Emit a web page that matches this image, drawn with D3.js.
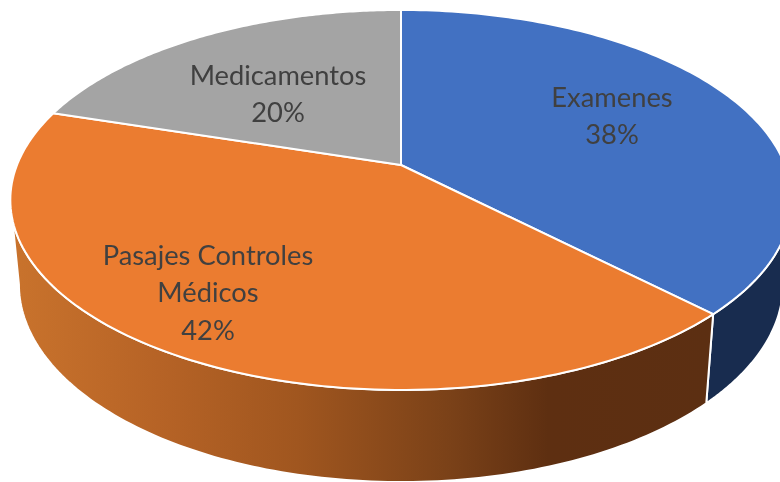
<!DOCTYPE html>
<html>
<head>
<meta charset="utf-8">
<script src="https://cdn.jsdelivr.net/npm/d3@7"></script>
<style>
html,body{margin:0;padding:0;background:#fff;overflow:hidden}
svg{display:block;filter:blur(0.4px)}
text{font-family:Lato,"Open Sans",sans-serif;fill:#404040;font-size:27.3px;text-anchor:middle}
</style>
</head>
<body>
<svg id="chart" width="780" height="482"></svg>
<script>
// data
const categories = ["Examenes", "Pasajes Controles Médicos", "Medicamentos"];
const labelLines = [["Examenes"], ["Pasajes Controles", "Médicos"], ["Medicamentos"]];
const values = [37.5, 42.3, 20.2];

// layout and style
const topColors = ["#4271c2", "#eb7c30", "#a4a4a4"];
const labelCentres = [[612, 97], [208, 255], [278, 75]];
const lineStep = 37.5;
const apex = {x: 401, y: 165};
const R = 384, persp = -0.184, depthA = 153.2;
const wallScaleX = 0.978, wallScaleY = 1.04, wallShift = 76.5;

const svg = d3.select("#chart");
const defs = svg.append("defs");
const grad = defs.append("linearGradient").attr("id", "orangeWall")
  .attr("gradientUnits", "userSpaceOnUse")
  .attr("x1", 20).attr("x2", 715).attr("y1", 0).attr("y2", 0);
[[0, "#c8722c"], [0.2, "#b66326"], [0.4, "#a0561f"], [0.62, "#7a4118"], [0.76, "#5e2f11"], [1, "#5c2f12"]]
  .forEach(s => grad.append("stop").attr("offset", s[0]).attr("stop-color", s[1]));

// perspective projection of the pie circle
const project = a => {
  const u = Math.sin(a), v = -Math.cos(a), w = 1 + persp * v;
  return [apex.x + R * u / w, (depthA * v + apex.y) / w];
};
const lower = p => [apex.x + wallScaleX * (p[0] - apex.x), wallScaleY * p[1] + wallShift];
const sample = (a0, a1) => d3.range(0, 121).map(i => a0 + (a1 - a0) * i / 120);

const arcs = d3.pie().sort(null).value(d => d)(values);
const line = d3.line();

// angles at which the rim reaches its widest points
const tilt = Math.acos(-persp);
const rightEdge = Math.PI - tilt;
const leftEdge = Math.PI + tilt;

// walls
const walls = [
  {a0: Math.max(arcs[0].startAngle, rightEdge), a1: arcs[0].endAngle, fill: "#182c4f"},
  {a0: arcs[1].startAngle, a1: Math.min(arcs[1].endAngle, leftEdge), fill: "url(#orangeWall)"}
];
svg.append("g").selectAll("path").data(walls).join("path")
  .attr("d", d => {
    const t = sample(d.a0, d.a1).map(project);
    const b = t.map(lower).reverse();
    return line(t.concat(b)) + "Z";
  })
  .attr("fill", d => d.fill)
  .attr("stroke", "#fff").attr("stroke-width", 2).attr("stroke-linejoin", "round");

// top faces
svg.append("g").selectAll("path").data(arcs).join("path")
  .attr("d", d => line([[apex.x, apex.y]].concat(sample(d.startAngle, d.endAngle).map(project))) + "Z")
  .attr("fill", (d, i) => topColors[i])
  .attr("stroke", "#fff").attr("stroke-width", 2).attr("stroke-linejoin", "round");

// labels
const labels = svg.append("g").selectAll("g").data(arcs).join("g");
labels.each(function (d, i) {
  const g = d3.select(this);
  const rows = labelLines[i].concat([Math.round(d.value) + "%"]);
  rows.forEach((r, j) => {
    g.append("text")
      .attr("x", labelCentres[i][0])
      .attr("y", labelCentres[i][1] + j * lineStep)
      .attr("dy", "0.35em")
      .text(r);
  });
});
</script>
</body>
</html>
